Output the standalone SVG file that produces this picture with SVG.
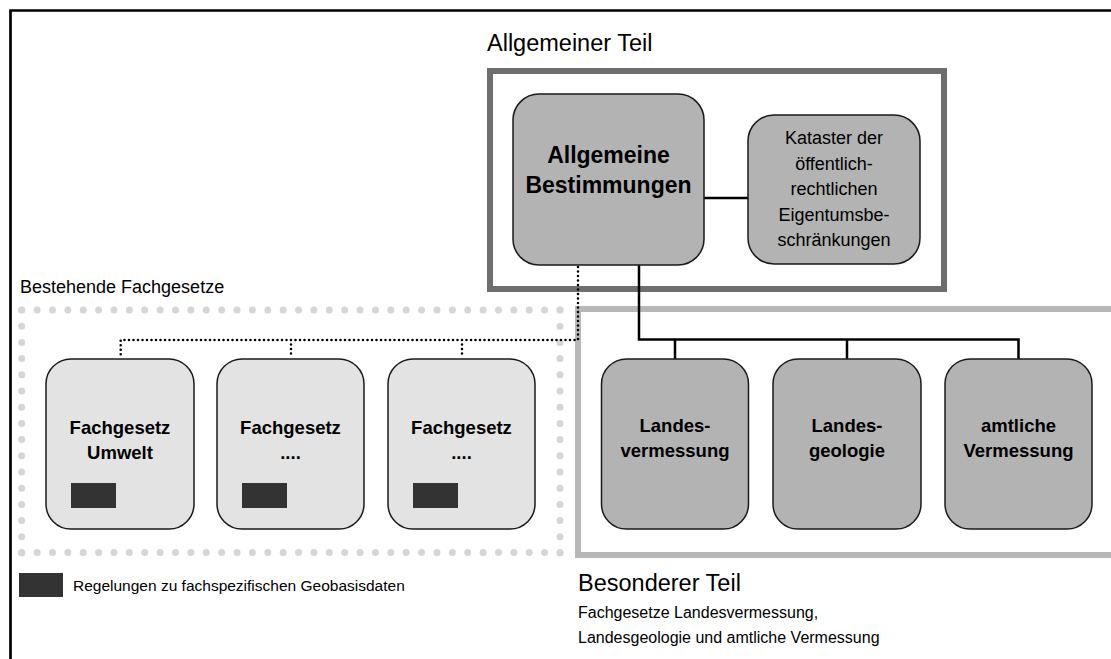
<svg xmlns="http://www.w3.org/2000/svg" width="1111" height="659" viewBox="0 0 1111 659">
<style>
text{font-family:"Liberation Sans",Arial,Helvetica,sans-serif;fill:#000}
.title{font-size:23.5px}
.sub{font-size:16px}
.lbl{font-size:18px}
.leg{font-size:15.5px}
.big{font-size:23px;font-weight:bold}
.bold{font-size:18.5px;font-weight:bold}
.reg{font-size:18px}
.dark{fill:#b3b3b3;stroke:#1a1a1a;stroke-width:1.5}
.light{fill:#e3e3e3;stroke:#1a1a1a;stroke-width:1.5}
.mark{fill:#333333}
.solid{fill:none;stroke:#000;stroke-width:2.5}
.dotted{fill:none;stroke:#000;stroke-width:2.6;stroke-linecap:round;stroke-dasharray:0 4.5}
.gdots{fill:none;stroke:#d6d6d6;stroke-width:7;stroke-linecap:round}
</style>
<rect width="1111" height="659" fill="#fff"/>
<path d="M10.5,659 V10.5 H1111" fill="none" stroke="#000" stroke-width="2.7"/>

<g id="frame-besonderer">
<rect x="578" y="309" width="560" height="246" fill="none" stroke="#b8b8b8" stroke-width="6"/>
</g>
<g id="frame-allgemeiner">
<rect x="490" y="71" width="454" height="218" fill="none" stroke="#6e6e6e" stroke-width="6"/>
</g>
<g id="frame-bestehende">
<path class="gdots" d="M21.7,310 H560.4" stroke-dasharray="0 15.38"/>
<path class="gdots" d="M21.7,552.5 H560.4" stroke-dasharray="0 15.38"/>
<path class="gdots" d="M21.7,310 V553.4" stroke-dasharray="0 16.2"/>
<path class="gdots" d="M560,310 V553.4" stroke-dasharray="0 16.2"/>
</g>

<g id="labels">
<text class="title" x="487" y="51">Allgemeiner Teil</text>
<text class="lbl" x="20" y="293">Bestehende Fachgesetze</text>
<text class="title" x="578" y="591">Besonderer Teil</text>
<text class="sub" x="578" y="618">Fachgesetze Landesvermessung,</text>
<text class="sub" x="578" y="643">Landesgeologie und amtliche Vermessung</text>
</g>

<g id="legend">
<rect class="mark" x="19" y="573" width="44" height="24"/>
<text class="leg" x="73" y="591">Regelungen zu fachspezifischen Geobasisdaten</text>
</g>

<g id="connectors">
<path class="solid" d="M704,198 H748"/>
<path class="solid" d="M639,265 V339.5 H1018.5 V359 M675,339.5 V359 M847,339.5 V359"/>
<path class="dotted" d="M578,267 V340 H120.7 V358 M291,340 V358 M462,340 V358"/>
</g>

<g id="node-allgemeine-bestimmungen">
<rect class="dark" x="513" y="94" width="191" height="171" rx="26"/>
<text class="big" x="608.5" y="163" text-anchor="middle">Allgemeine</text>
<text class="big" x="608.5" y="193" text-anchor="middle">Bestimmungen</text>
</g>
<g id="node-kataster">
<rect class="dark" x="748" y="115" width="172" height="149" rx="26"/>
<text class="reg" x="834" y="144" text-anchor="middle">Kataster der</text>
<text class="reg" x="834" y="169.5" text-anchor="middle">öffentlich-</text>
<text class="reg" x="834" y="195" text-anchor="middle">rechtlichen</text>
<text class="reg" x="834" y="220.5" text-anchor="middle">Eigentumsbe-</text>
<text class="reg" x="834" y="246" text-anchor="middle">schränkungen</text>
</g>

<g id="node-fachgesetz-umwelt">
<rect class="light" x="46" y="359" width="148" height="170" rx="25"/>
<text class="bold" x="120" y="434" text-anchor="middle">Fachgesetz</text>
<text class="bold" x="120" y="459" text-anchor="middle">Umwelt</text>
<rect class="mark" x="71" y="483" width="45" height="25"/>
</g>
<g id="node-fachgesetz-2">
<rect class="light" x="217" y="359" width="147" height="170" rx="25"/>
<text class="bold" x="290.5" y="434" text-anchor="middle">Fachgesetz</text>
<text class="bold" x="290.5" y="459" text-anchor="middle">....</text>
<rect class="mark" x="242" y="483" width="45" height="25"/>
</g>
<g id="node-fachgesetz-3">
<rect class="light" x="388" y="359" width="147" height="170" rx="25"/>
<text class="bold" x="461.5" y="434" text-anchor="middle">Fachgesetz</text>
<text class="bold" x="461.5" y="459" text-anchor="middle">....</text>
<rect class="mark" x="413" y="483" width="45" height="25"/>
</g>

<g id="node-landesvermessung">
<rect class="dark" x="601.5" y="359" width="147" height="170" rx="25"/>
<text class="bold" x="675" y="432" text-anchor="middle">Landes-</text>
<text class="bold" x="675" y="457" text-anchor="middle">vermessung</text>
</g>
<g id="node-landesgeologie">
<rect class="dark" x="773" y="359" width="148" height="170" rx="25"/>
<text class="bold" x="847" y="432" text-anchor="middle">Landes-</text>
<text class="bold" x="847" y="457" text-anchor="middle">geologie</text>
</g>
<g id="node-amtliche-vermessung">
<rect class="dark" x="945" y="359" width="147" height="170" rx="25"/>
<text class="bold" x="1018.5" y="432" text-anchor="middle">amtliche</text>
<text class="bold" x="1018.5" y="457" text-anchor="middle">Vermessung</text>
</g>
</svg>
